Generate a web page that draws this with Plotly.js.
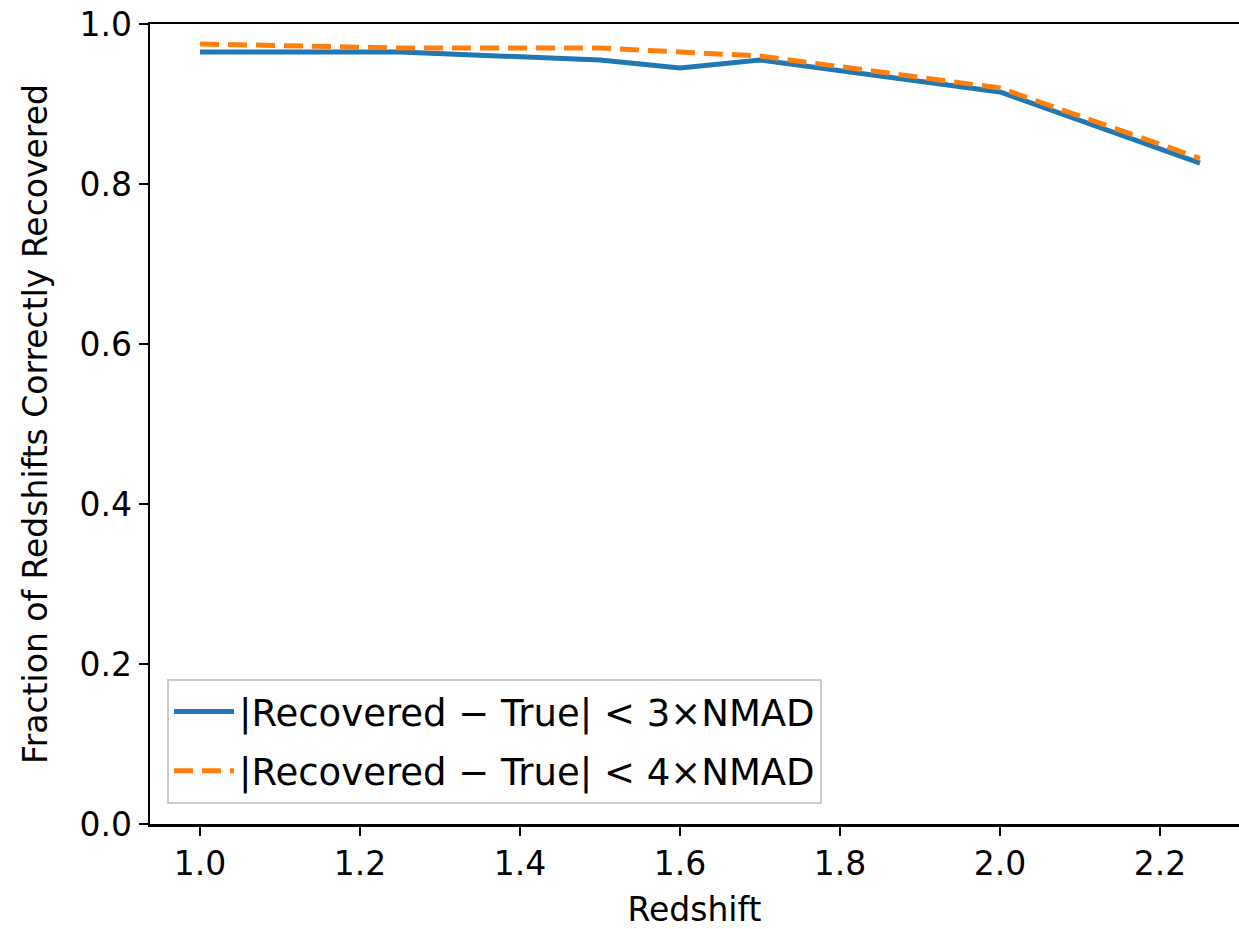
<!DOCTYPE html>
<html>
<head>
<meta charset="utf-8">
<script src="https://cdn.plot.ly/plotly-3.0.1.min.js"></script>
<style>html,body{margin:0;padding:0;background:#fff;}#chart{width:1239px;height:929px;}</style>
</head>
<body>
<div id="chart"></div>
<script>
const redshift = [1.0, 1.25, 1.5, 1.6, 1.7, 2.0, 2.25];
const frac3NMAD = [0.965, 0.965, 0.955, 0.945, 0.955, 0.915, 0.826];
const frac4NMAD = [0.975, 0.970, 0.970, 0.965, 0.960, 0.920, 0.832];
const seriesNames = ["|Recovered \u2212 True| < 3\u00d7NMAD", "|Recovered \u2212 True| < 4\u00d7NMAD"];
const xTicks = [1.0, 1.2, 1.4, 1.6, 1.8, 2.0, 2.2];
const yTicks = [0.0, 0.2, 0.4, 0.6, 0.8, 1.0];

const font = "DejaVu Sans, sans-serif";
const traces = [
  {x: redshift, y: frac3NMAD, name: seriesNames[0], type: "scatter", mode: "lines",
   legendgroup: "a", line: {color: "#1f77b4", width: 5}},
  {x: redshift, y: frac4NMAD, name: seriesNames[1], type: "scatter", mode: "lines",
   legendgroup: "b", line: {color: "#ff7f0e", width: 5, dash: "19px,9px"}}
];
const layout = {
  width: 1239, height: 929,
  margin: {l: 150, r: 0, t: 24, b: 105},
  paper_bgcolor: "#fff", plot_bgcolor: "#fff",
  showlegend: true,
  font: {family: font, color: "#000", size: 34},
  xaxis: {
    range: [0.9375, 2.29875],
    tickvals: xTicks, tickformat: ".1f",
    showgrid: false, zeroline: false,
    showline: true, linecolor: "#000", linewidth: 2.5, mirror: true,
    ticks: "outside", ticklen: 9, tickwidth: 2, tickcolor: "#000",
    tickfont: {family: font, size: 33},
    title: {text: "Redshift", font: {family: font, size: 33}, standoff: 18}
  },
  yaxis: {
    range: [0, 1],
    tickvals: yTicks, tickformat: ".1f",
    showgrid: false, zeroline: false,
    showline: true, linecolor: "#000", linewidth: 2.5, mirror: false,
    ticks: "outside", ticklen: 9, tickwidth: 2, tickcolor: "#000",
    tickfont: {family: font, size: 33},
    title: {text: "Fraction of Redshifts Correctly Recovered", font: {family: font, size: 33}, standoff: 22}
  },
  legend: {
    x: 0.0156, y: 0.025, xanchor: "left", yanchor: "bottom",
    bgcolor: "rgba(255,255,255,0.8)", bordercolor: "#cccccc", borderwidth: 2,
    font: {family: font, size: 37},
    traceorder: "grouped", tracegroupgap: 8,
    itemwidth: 60
  }
};
Plotly.newPlot("chart", traces, layout, {staticPlot: true, displayModeBar: false});
</script>
</body>
</html>
